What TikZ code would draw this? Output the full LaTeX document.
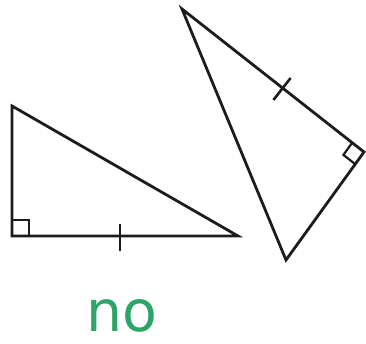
\documentclass[tikz,border=0pt]{standalone}
\usepackage{fontspec}
\newfontfamily\handfont{DejaVu Sans}
\usetikzlibrary{calc}
\definecolor{nogreen}{RGB}{45,165,105}
\definecolor{ink}{RGB}{28,28,28}
\tikzset{
  edge/.style={line width=2.8pt, line join=miter, ink},
  tickmark/.style={line width=2.6pt, ink},
  sq/.style={line width=2.2pt, ink}
}
\begin{document}
\begin{tikzpicture}[x=1pt,y=-1pt]
\useasboundingbox (0,0) rectangle (366,344);
% left triangle
\coordinate (A) at (12,106);
\coordinate (C) at (12,236);
\coordinate (B) at (238,236);
\draw[edge] (A) -- (C) -- (B) -- cycle;
\draw[sq] (12,220) -- (29,220) -- (29,236);
\draw[tickmark] (120,224) -- (120,251);
% right triangle
\coordinate (T) at (182,9);
\coordinate (R) at (364,152);
\coordinate (Q) at (286,260);
\draw[edge] (T) -- (R) -- (Q) -- cycle;
\coordinate (r1) at ($(R)!15pt!(T)$);
\coordinate (r2) at ($(R)!15pt!(Q)$);
\draw[sq] (r1) -- ($(r1)+(r2)-(R)$) -- (r2);
\coordinate (M) at (282,89);
\draw[tickmark] ($(M)+(-8.6,11)$) -- ($(M)+(8.6,-11)$);
% text
\node[text=nogreen, inner sep=0pt] (no) at (122,316) {\handfont\fontsize{57}{57}\selectfont no};
\end{tikzpicture}
\end{document}
